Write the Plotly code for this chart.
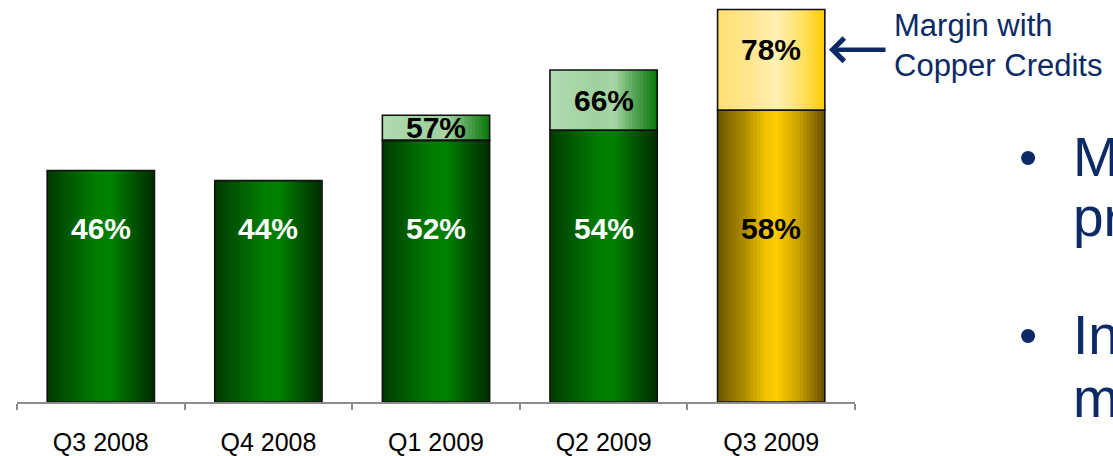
import plotly.graph_objects as go

# ---------------- data ----------------
quarters = ["Q3 2008", "Q4 2008", "Q1 2009", "Q2 2009", "Q3 2009"]
margin_base = [46, 44, 52, 54, 58]            # gross margin
margin_copper = [None, None, 57, 66, 78]      # margin with copper credits
callout_text = ["Margin with", "Copper Credits"]
bullet_lines = [["M", "pr"], ["In", "m"]]

# ---------------- style ----------------
W = 0.64
N = 30
FONT = "Liberation Sans, Arial, sans-serif"
NAVY = "#0b2a66"

green = [(0, "#003800"), (0.22, "#005c00"), (0.45, "#007c00"), (0.6, "#008000"),
         (0.8, "#005400"), (1, "#002c00")]
gold = [(0, "#6c5600"), (0.25, "#ae8c00"), (0.45, "#f2c400"), (0.55, "#ffcc00"),
        (0.75, "#caa200"), (1, "#665000")]
lgreen = [(0, "#b2dbb2"), (0.45, "#9fd19f"), (0.6, "#a6d6a6"), (0.78, "#58a658"),
          (1, "#087808")]
lgold = [(0, "#ffe070"), (0.3, "#ffe690"), (0.55, "#fff1b4"), (0.8, "#ffe060"),
         (1, "#ffcc00")]


def hex2rgb(h):
    h = h.lstrip("#")
    return [int(h[i:i + 2], 16) for i in (0, 2, 4)]


def interp(stops, t):
    for (t0, c0), (t1, c1) in zip(stops[:-1], stops[1:]):
        if t0 <= t <= t1:
            f = (t - t0) / (t1 - t0) if t1 > t0 else 0
            a, b = hex2rgb(c0), hex2rgb(c1)
            r = [round(a[k] + (b[k] - a[k]) * f) for k in range(3)]
            return "rgb(%d,%d,%d)" % tuple(r)
    return stops[-1][1]


is_gold = [q == "Q3 2009" for q in quarters]
top_idx = [i for i, v in enumerate(margin_copper) if v is not None]
top_x = [quarters[i] for i in top_idx]
top_base = [margin_base[i] for i in top_idx]
top_h = [margin_copper[i] - margin_base[i] for i in top_idx]

fig = go.Figure()

# gradient strips
for i in range(N):
    t = (i + 0.5) / N
    off = -W / 2 + i * W / N
    wid = min(W / N * 1.8, W / 2 - off)
    cb = [interp(gold, t) if g else interp(green, t) for g in is_gold]
    fig.add_bar(x=quarters, y=margin_base, base=0, offset=off, width=wid,
                marker=dict(color=cb, line=dict(width=0)),
                hoverinfo="skip", showlegend=False)
    ct = [interp(lgold, t) if is_gold[k] else interp(lgreen, t) for k in top_idx]
    fig.add_bar(x=top_x, y=top_h, base=top_base, offset=off, width=wid,
                marker=dict(color=ct, line=dict(width=0)),
                hoverinfo="skip", showlegend=False)

# outlines
fig.add_bar(x=quarters, y=margin_base, base=0, offset=-W / 2, width=W,
            marker=dict(color="rgba(0,0,0,0)", line=dict(color="#111111", width=1.6)),
            hoverinfo="skip", showlegend=False)
fig.add_bar(x=top_x, y=top_h, base=top_base, offset=-W / 2, width=W,
            marker=dict(color="rgba(0,0,0,0)", line=dict(color="#111111", width=1.6)),
            hoverinfo="skip", showlegend=False)

ann = []
# base labels
for q, v, g in zip(quarters, margin_base, is_gold):
    ann.append(dict(x=q, y=34.5, xref="x", yref="y", text="<b>%d%%</b>" % v,
                    showarrow=False, font=dict(family=FONT, size=30,
                                               color="black" if g else "white")))
# top labels (centred, but kept near the top of tall segments)
for q, b, h in zip(top_x, top_base, top_h):
    ann.append(dict(x=q, y=b + h - min(h / 2, 8), xref="x", yref="y",
                    text="<b>%d%%</b>" % (b + h),
                    showarrow=False, font=dict(family=FONT, size=30, color="black")))

L, R, T, B = 17, 258, 0, 51
PW, PH = 1113 - L - R, 456 - T - B


def px(xpix):
    return (xpix - L) / PW


def py(ypix):
    return 1 - (ypix - T) / PH


# callout arrow
ann.append(dict(x=px(829), y=py(50), xref="paper", yref="paper", ax=58, ay=0,
                text="", showarrow=True, arrowhead=4, arrowsize=1, arrowwidth=4.5,
                arrowcolor=NAVY))
ann.append(dict(x=px(892), y=py(46), xref="paper", yref="paper", xanchor="left",
                yanchor="middle", align="left", text="<br>".join(callout_text),
                showarrow=False, font=dict(family=FONT, size=31, color=NAVY)))

# cut-off bullet text at right (cropped in the source image)
line_y = [[158, 219], [338, 401]]
for lines, ys in zip(bullet_lines, line_y):
    ann.append(dict(x=px(1028), y=py(ys[0]), xref="paper", yref="paper",
                    xanchor="center", yanchor="middle", text="•", showarrow=False,
                    font=dict(family=FONT, size=52, color=NAVY)))
    for word, yy in zip(lines, ys):
        ann.append(dict(x=px(1071), y=py(yy), xref="paper", yref="paper",
                        xanchor="left", yanchor="middle", text=word, showarrow=False,
                        font=dict(family=FONT, size=55, color=NAVY)))

fig.update_layout(
    width=1113, height=456,
    margin=dict(l=L, r=R, t=T, b=B),
    barmode="overlay",
    paper_bgcolor="white", plot_bgcolor="white",
    showlegend=False,
    annotations=ann,
    xaxis=dict(showline=True, linecolor="#8c8c8c", linewidth=2, ticks="outside",
               tickson="boundaries", ticklen=6, tickwidth=2, tickcolor="#8c8c8c",
               showgrid=False, range=[-0.5, 4.5], ticklabelstandoff=17,
               tickfont=dict(family=FONT, size=25, color="black")),
    yaxis=dict(visible=False, range=[0, 79.9], showgrid=False, zeroline=False),
)

fig.write_html("out.html",
               config={"displayModeBar": False},
               post_script="document.body.style.margin='0';"
                           "document.body.style.overflow='hidden';")
